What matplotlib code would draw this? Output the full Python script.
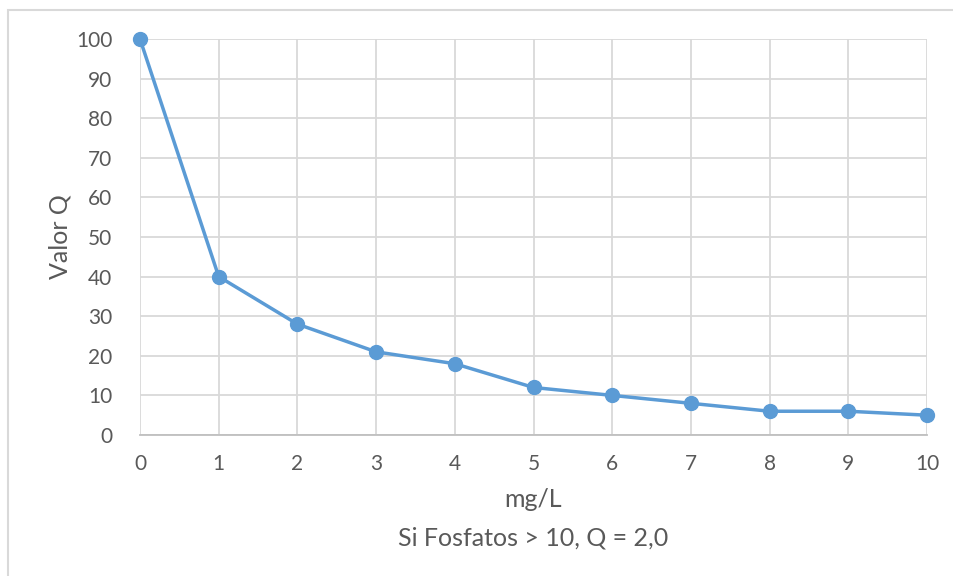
import matplotlib
matplotlib.use("Agg")
import matplotlib.pyplot as plt
from matplotlib.patches import Rectangle

plt.rcParams["font.family"] = ["Lato", "DejaVu Sans"]

# datos de la curva de fosfatos
mg_l = [0, 1, 2, 3, 4, 5, 6, 7, 8, 9, 10]
valor_q = [100, 40, 28, 21, 18, 12, 10, 8, 6, 6, 5]
y_ticks = [0, 10, 20, 30, 40, 50, 60, 70, 80, 90, 100]

line_color = "#5B9BD5"
grid_color = "#D9D9D9"
text_color = "#595959"

fig = plt.figure(figsize=(9.54, 5.76), dpi=100)
ax = fig.add_axes([140 / 954, 1 - 435 / 576, 787 / 954, 396 / 576])

ax.plot(mg_l, valor_q, color=line_color, linewidth=2.5, marker="o",
        markersize=10, clip_on=False, zorder=3)

ax.set_xlim(0, 10)
ax.set_ylim(0, 100)
ax.set_xticks(mg_l)
ax.set_yticks(y_ticks)
ax.grid(True, color=grid_color, linewidth=1.3)
ax.set_axisbelow(True)

for side in ["top", "right", "left"]:
    ax.spines[side].set_visible(False)
ax.spines["bottom"].set_color("#BFBFBF")
ax.spines["bottom"].set_linewidth(1.3)
ax.tick_params(axis="both", length=0, labelsize=15, labelcolor=text_color)
ax.tick_params(axis="x", pad=14)
ax.tick_params(axis="y", pad=20)

ax.set_xlabel("mg/L", fontsize=18, color=text_color)
ax.xaxis.set_label_coords(0.5, -0.135)
ax.set_ylabel("Valor Q", fontsize=18, color=text_color)
ax.yaxis.set_label_coords(-0.087, 0.5)
fig.text(533 / 954, 1 - 538 / 576, "Si Fosfatos > 10, Q = 2,0",
         fontsize=18, color=text_color, ha="center", va="center")

# marco del gráfico
fig.patches.append(Rectangle((8 / 954, -0.05), 1.0, 1 - 10 / 576 + 0.05,
                             transform=fig.transFigure, fill=False,
                             edgecolor=grid_color, linewidth=1.5))

fig.savefig("out.png", dpi=100)
